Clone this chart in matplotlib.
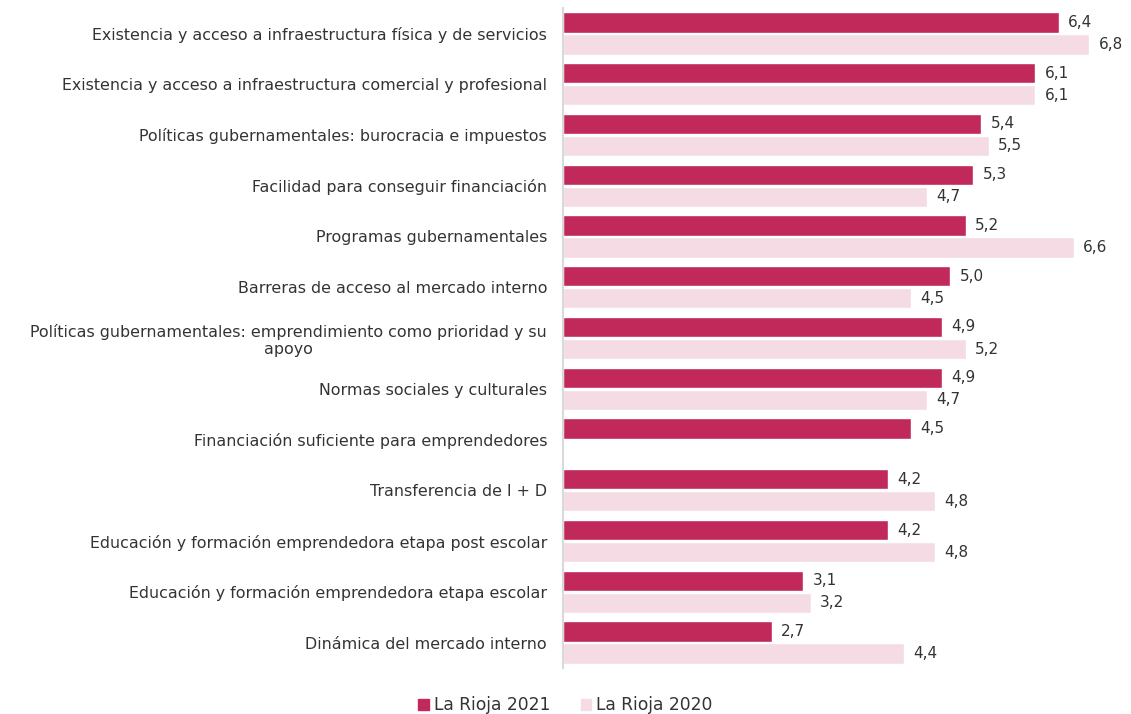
import numpy as np
import matplotlib.pyplot as plt
from matplotlib.patches import Patch

categories = [
    "Existencia y acceso a infraestructura física y de servicios",
    "Existencia y acceso a infraestructura comercial y profesional",
    "Políticas gubernamentales: burocracia e impuestos",
    "Facilidad para conseguir financiación",
    "Programas gubernamentales",
    "Barreras de acceso al mercado interno",
    "Políticas gubernamentales: emprendimiento como prioridad y su\napoyo",
    "Normas sociales y culturales",
    "Financiación suficiente para emprendedores",
    "Transferencia de I + D",
    "Educación y formación emprendedora etapa post escolar",
    "Educación y formación emprendedora etapa escolar",
    "Dinámica del mercado interno",
]
rioja_2021 = [6.4, 6.1, 5.4, 5.3, 5.2, 5.0, 4.9, 4.9, 4.5, 4.2, 4.2, 3.1, 2.7]
rioja_2020 = [6.8, 6.1, 5.5, 4.7, 6.6, 4.5, 5.2, 4.7, np.nan, 4.8, 4.8, 3.2, 4.4]
series_names = ["La Rioja 2021", "La Rioja 2020"]

dark = "#C0295A"
light = "#F5DCE4"
text_col = "#333333"

plt.rcParams['font.family'] = ['DejaVu Sans']

fig = plt.figure(figsize=(11.31, 7.14), dpi=100)
ax = fig.add_axes([0.4978, 0.0644, 0.4922, 0.9244])

y = np.arange(len(categories))
off = 0.217
h = 0.40
ax.barh(y - off, rioja_2021, height=h, color=dark, edgecolor="white", linewidth=1)
ax.barh(y + off, rioja_2020, height=h, color=light, edgecolor="white", linewidth=1)

for yi, v in zip(y, rioja_2021):
    ax.text(v + 0.12, yi - off, f"{v:.1f}".replace(".", ","), va="center", ha="left",
            fontsize=11, color=text_col)
for yi, v in zip(y, rioja_2020):
    if np.isnan(v):
        continue
    ax.text(v + 0.12, yi + off, f"{v:.1f}".replace(".", ","), va="center", ha="left",
            fontsize=11, color=text_col)

ax.set_xlim(0, 7.19)
ax.set_ylim(len(categories) - 0.5, -0.5)
ax.set_yticks(y)
ax.set_yticklabels(categories, fontsize=11.4, color=text_col, multialignment="center")
ax.tick_params(axis="y", length=0, pad=11.5)
ax.set_xticks([])
for s in ["top", "right", "bottom"]:
    ax.spines[s].set_visible(False)
ax.spines["left"].set_color("#d9d9d9")
ax.spines["left"].set_linewidth(1.5)

handles = [Patch(color=dark), Patch(color=light)]
fig.legend(handles, series_names, loc="lower center", bbox_to_anchor=(0.5, -0.022), ncol=2,
           frameon=False, fontsize=12.3, handlelength=0.6, handleheight=0.6,
           handletextpad=0.3, columnspacing=1.8, labelcolor=text_col)

fig.savefig("out.png", dpi=100)
